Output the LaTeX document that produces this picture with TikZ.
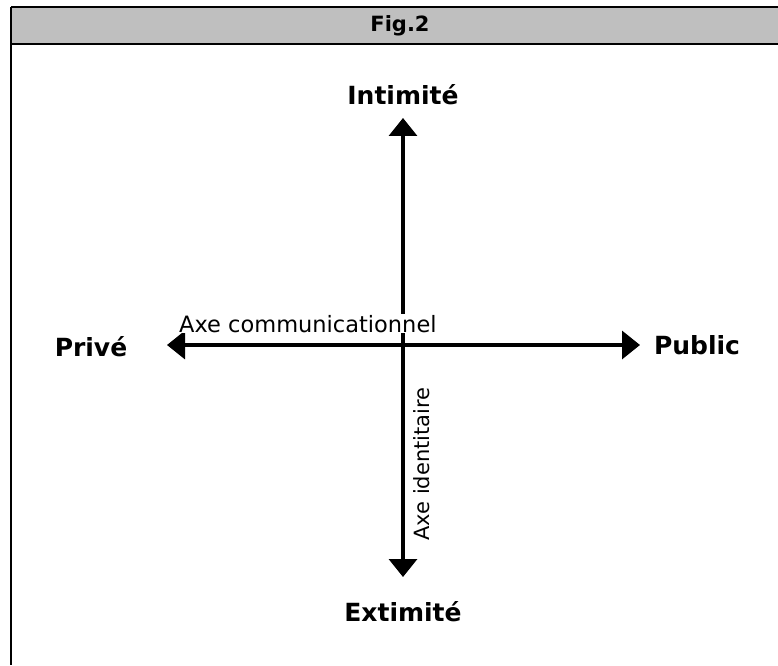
\documentclass[tikz,border=0pt]{standalone}
\usepackage{fontspec}
\setmainfont{DejaVu Sans}
\usetikzlibrary{arrows.meta}

\begin{document}
\begin{tikzpicture}[x=1pt, y=1pt, axis/.style={line width=3.5pt, -{Triangle[length=18pt,width=28pt]}}, pole/.style={font=\fontsize{25}{30}\selectfont\bfseries}, axename/.style={font=\fontsize{21}{25}\selectfont, inner sep=1pt}]

                \useasboundingbox (0,0) rectangle (778,665);

                % bandeau du titre
                \fill[gray!50] (11,621) rectangle (778,658);
                \draw[line width=1.5pt] (11,658) -- (778,658);
                \draw[line width=1.8pt] (11,621) -- (778,621);
                \draw[line width=1.5pt] (11,658) -- (11,0);
                \node[font=\fontsize{21}{25}\selectfont\bfseries] (fig) at (400,639) {Fig.2};

                \node[pole] (I) at (403,570) {Intimité};
                \node[pole] (E) at (403,53) {Extimité};
                \node[pole] (P) at (91,318) {Privé};
                \node[pole] (U) at (697,320) {Public};

                \coordinate (O) at (403,320);
                \coordinate (top) at (403,547);
                \coordinate (bot) at (403,88);
                \coordinate (left) at (167,320);
                \coordinate (right) at (640,320);

                \draw[axis] (O) -- (top);
                \draw[axis] (O) -- (bot);
                \draw[axis] (O) -- (left);
                \draw[axis] (O) -- (right);

                \node[axename, font=\fontsize{22.5}{26}\selectfont, fill=white, anchor=base west] (com) at (178,333) {Axe communicationnel};
                \node[axename, rotate=90] (id) at (422,201) {Axe identitaire};

            \end{tikzpicture}
\end{document}
